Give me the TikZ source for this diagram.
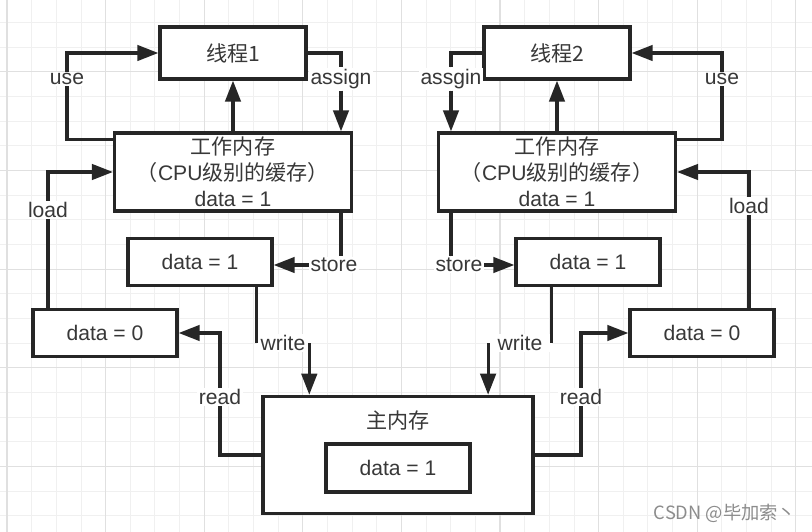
\documentclass[tikz,border=0pt]{standalone}
\usepackage{fontspec}
\setmainfont{Liberation Sans}
\newfontfamily\cjk{Noto Sans CJK SC}
\usetikzlibrary{arrows.meta}

\begin{document}
\begin{tikzpicture}[x=0.025cm, y=-0.025cm,
    font=\fontsize{15}{18.5}\selectfont, text=black!78,
    box/.style={draw=black!85, line width=2.3pt, fill=white, minimum width=3.6cm, minimum height=1.18cm, inner sep=2pt},
    lbl/.style={fill=white, inner sep=1pt},
    wire/.style={draw=black!85, line width=2.2pt},
    arr/.style={wire, -{Triangle[length=15pt, width=11pt]}}]
    \useasboundingbox (0,0) rectangle (812,532);
    \fill[white] (0,0) rectangle (812,532);
    \foreach \i in {0,...,32}
      \draw[gray!12, line width=0.6pt] ({7+\i*24.65},0) -- ({7+\i*24.65},532);
    \foreach \i in {0,...,20}
      \draw[gray!12, line width=0.6pt] (0,{22.6+\i*24.65}) -- (812,{22.6+\i*24.65});
    \foreach \i in {0,4,...,32}
      \draw[gray!24, line width=0.8pt] ({7+\i*24.65},0) -- ({7+\i*24.65},532);
    \foreach \i in {2,6,...,18}
      \draw[gray!24, line width=0.8pt] (0,{22.6+\i*24.65}) -- (812,{22.6+\i*24.65});

    \node[box, minimum width=3.65cm, minimum height=1.3cm] (t1) at (233,53) {{\cjk 线程1}};
    \node[box, minimum width=3.65cm, minimum height=1.3cm] (t2) at (557,53) {{\cjk 线程2}};
    \node[box, minimum width=5.92cm, minimum height=1.95cm, align=center] (wm1) at (233,172)
      {{\cjk 工作内存}\\{\cjk （}CPU{\cjk 级别的缓存）}\\data = 1};
    \node[box, minimum width=5.92cm, minimum height=1.95cm, align=center] (wm2) at (557,172)
      {{\cjk 工作内存}\\{\cjk （}CPU{\cjk 级别的缓存）}\\data = 1};
    \node[box] (d1L) at (200,262) {data = 1};
    \node[box] (d1R) at (588,262) {data = 1};
    \node[box] (d0L) at (105,333) {data = 0};
    \node[box] (d0R) at (702,333) {data = 0};
    \node[box, minimum width=6.75cm, minimum height=2.93cm] (main) at (398,455) {};
    \node (mainT) at (398,421) {{\cjk 主内存}};
    \node[box, minimum height=1.2cm] (mainD) at (398,468) {data = 1};

    \node[lbl] (useL) at (67,79) {use};
    \node[lbl] (asgL) at (341,79) {assign};
    \node[lbl] (stoL) at (334,265) {store};
    \node[lbl] (loadL) at (48,210) {load};
    \node[lbl, minimum width=1.3cm] (wrL) at (283,343) {write};
    \node[lbl] (rdL) at (220,397) {read};
    \node[lbl] (asgR) at (451,79) {assgin};
    \node[lbl] (useR) at (722,79) {use};
    \node[lbl] (stoR) at (459,265) {store};
    \node[lbl] (loadR) at (749,206) {load};
    \node[lbl, minimum width=1.58cm] (wrR) at (520,343) {write};
    \node[lbl] (rdR) at (581,397) {read};

    \draw[wire] ([shift={(0,8)}]wm1.north west) -| (useL);
    \draw[arr] (useL) |- (t1);
    \draw[wire] (t1) -| (asgL);
    \draw[arr] (asgL) -- (asgL |- wm1.north);
    \draw[arr] (wm1) -- (t1);
    \draw[wire] (wm1.south -| asgL) -- (asgL |- stoL.north);
    \draw[arr] (stoL.west) -- (stoL.west -| d1L.east);
    \draw[wire] (loadL |- d0L.north) -- (loadL);
    \draw[arr] (loadL) |- (wm1);
    \draw[wire] (d1L.south -| wrL.west) -- (wrL.west);
    \draw[arr] (wrL.east) -- (wrL.east |- main.north);
    \draw[wire] (main) -| (rdL);
    \draw[arr] (rdL) |- (d0L);

    \draw[wire] ([shift={(0,8)}]wm2.north east) -| (useR);
    \draw[arr] (useR) |- (t2);
    \draw[wire] (t2) -| (asgR);
    \draw[arr] (asgR) -- (asgR |- wm2.north);
    \draw[arr] (wm2) -- (t2);
    \draw[wire] (wm2.south -| asgR) -- (asgR |- stoR.north);
    \draw[arr] (stoR.east) -- (stoR.east -| d1R.west);
    \draw[wire] (loadR |- d0R.north) -- (loadR);
    \draw[arr] (loadR) |- (wm2);
    \draw[wire] (d1R.south -| wrR.east) -- (wrR.east);
    \draw[arr] (wrR.west) -- (wrR.west |- main.north);
    \draw[wire] (main) -| (rdR);
    \draw[arr] (rdR) |- (d0R);

    \node[text=black!45, font=\cjk\fontsize{13}{15}\selectfont] (mark) at (725,513) {CSDN @毕加索丶};
\end{tikzpicture}
\end{document}
